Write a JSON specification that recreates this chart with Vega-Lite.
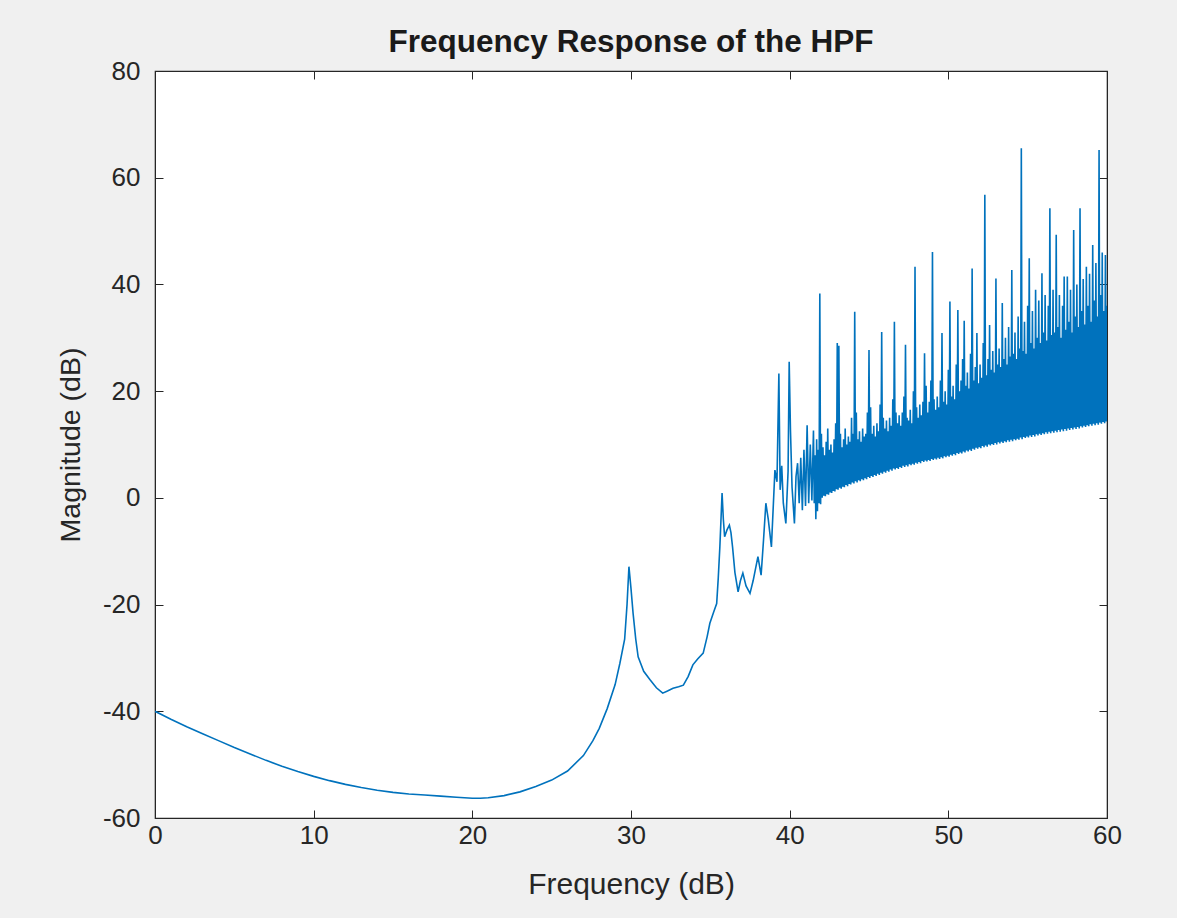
{
  "$schema": "https://vega.github.io/schema/vega-lite/v6.json",
  "width": 952,
  "height": 747,
  "autosize": {"type": "none"},
  "padding": {"left": 155, "top": 71, "right": 70, "bottom": 100},
  "background": "#f0f0f0",
  "config": {
    "view": {"fill": "#ffffff", "stroke": "#262626", "strokeWidth": 1.2},
    "font": "Liberation Sans"
  },
  "title": {
    "text": "Frequency Response of the HPF",
    "fontSize": 31.5,
    "fontWeight": "bold",
    "color": "#1a1a1a",
    "font": "Liberation Sans",
    "offset": 0,
    "anchor": "middle"
  },
  "data": {
    "values": [
      {"f":0,"m":-40.0},{"f":1,"m":-41.5},{"f":2,"m":-42.9},{"f":3,"m":-44.2},{"f":4,"m":-45.5},{"f":5,"m":-46.8},
      {"f":6,"m":-48.0},{"f":7,"m":-49.2},{"f":8,"m":-50.3},{"f":9,"m":-51.3},{"f":10,"m":-52.2},{"f":11,"m":-53.0},
      {"f":12,"m":-53.7},{"f":13,"m":-54.3},{"f":14,"m":-54.8},{"f":15,"m":-55.2},{"f":16,"m":-55.5},{"f":17,"m":-55.7},
      {"f":18,"m":-55.9},{"f":19,"m":-56.1},{"f":20,"m":-56.3},{"f":20.5,"m":-56.3},{"f":21,"m":-56.2},{"f":22,"m":-55.8},
      {"f":23,"m":-55.1},{"f":24,"m":-54.1},{"f":25,"m":-52.9},{"f":26,"m":-51.2},{"f":27,"m":-48.3},{"f":27.6,"m":-45.5},
      {"f":28,"m":-43.2},{"f":28.5,"m":-39.5},{"f":29,"m":-35.0},{"f":29.3,"m":-31.0},{"f":29.6,"m":-26.5},{"f":29.75,"m":-20.0},
      {"f":29.87,"m":-12.9},{"f":30.0,"m":-17.0},{"f":30.13,"m":-21.6},{"f":30.3,"m":-26.5},{"f":30.45,"m":-29.8},{"f":30.8,"m":-32.5},
      {"f":31.2,"m":-34.1},{"f":31.6,"m":-35.6},{"f":32.0,"m":-36.6},{"f":32.3,"m":-36.2},{"f":32.65,"m":-35.7},{"f":33.0,"m":-35.4},
      {"f":33.3,"m":-35.1},{"f":33.6,"m":-33.5},{"f":33.9,"m":-31.3},{"f":34.2,"m":-30.2},{"f":34.55,"m":-29.1},{"f":34.8,"m":-26.0},
      {"f":34.97,"m":-23.5},{"f":35.2,"m":-21.5},{"f":35.4,"m":-19.8},{"f":35.5,"m":-15.0},{"f":35.6,"m":-9.2},{"f":35.74,"m":0.9},
      {"f":35.82,"m":-4.0},{"f":35.9,"m":-7.3},{"f":36.05,"m":-6.0},{"f":36.2,"m":-5.1},{"f":36.3,"m":-6.5},{"f":36.4,"m":-9.2},
      {"f":36.55,"m":-14.0},{"f":36.75,"m":-17.6},{"f":36.9,"m":-15.5},{"f":37.05,"m":-14.1},{"f":37.25,"m":-16.5},{"f":37.5,"m":-17.9},
      {"f":37.7,"m":-15.5},{"f":38.0,"m":-11.0},{"f":38.2,"m":-14.5},{"f":38.35,"m":-8.0},{"f":38.5,"m":-1.0},{"f":38.65,"m":-4.0},
      {"f":38.85,"m":-9.2},{"f":39.07,"m":5.2},{"f":39.2,"m":3.0},{"f":39.32,"m":23.3},{"f":39.4,"m":1.5},{"f":39.5,"m":6.0},
      {"f":39.6,"m":-1.0},{"f":39.76,"m":-4.8},{"f":39.9,"m":5.0},{"f":39.97,"m":25.5},{"f":40.05,"m":12.7},{"f":40.15,"m":2.0},
      {"f":40.3,"m":-4.8},{"f":40.4,"m":4.0},{"f":40.5,"m":6.5},{"f":40.6,"m":-1.0},{"f":40.7,"m":7.5},{"f":40.8,"m":-2.3},
      {"f":40.9,"m":9.0},{"f":41.0,"m":-1.5},{"f":41.1,"m":13.6},{"f":41.2,"m":-1.0},{"f":41.3,"m":10.0},{"f":41.4,"m":-0.5},
      {"f":41.5,"m":12.6},
      {"f":41.55,"m":-1.0},{"f":41.6,"m":8.0},{"f":41.65,"m":-4.0},{"f":41.7,"m":11.0},{"f":41.75,"m":-2.5},{"f":41.8,"m":9.0},
      {"f":41.85,"m":-1.0},{"f":41.9,"m":38.3},{"f":41.95,"m":-1.2},{"f":42.0,"m":12.0},{"f":42.05,"m":0.0},{"f":42.1,"m":9.5},
      {"f":42.15,"m":0.4},{"f":42.2,"m":8.0},{"f":42.25,"m":0.3},{"f":42.3,"m":10.5},{"f":42.35,"m":0.7},{"f":42.4,"m":13.0},
      {"f":42.45,"m":0.6},{"f":42.5,"m":9.0},{"f":42.55,"m":1.0},{"f":42.6,"m":10.0},{"f":42.65,"m":0.9},{"f":42.7,"m":8.5},
      {"f":42.75,"m":1.3},{"f":42.8,"m":11.0},{"f":42.85,"m":1.2},{"f":42.9,"m":14.0},{"f":42.95,"m":1.6},{"f":43.0,"m":29.0},
      {"f":43.05,"m":1.5},{"f":43.1,"m":28.5},{"f":43.15,"m":1.9},{"f":43.2,"m":12.0},{"f":43.25,"m":1.7},{"f":43.3,"m":9.5},
      {"f":43.35,"m":2.1},{"f":43.4,"m":11.0},{"f":43.45,"m":2.0},{"f":43.5,"m":13.0},{"f":43.55,"m":2.4},{"f":43.6,"m":10.0},
      {"f":43.65,"m":2.2},{"f":43.7,"m":11.5},{"f":43.75,"m":2.6},{"f":43.8,"m":10.5},{"f":43.85,"m":2.5},{"f":43.9,"m":15.0},
      {"f":43.95,"m":2.9},{"f":44.0,"m":12.0},{"f":44.05,"m":2.7},{"f":44.1,"m":34.9},{"f":44.15,"m":3.1},{"f":44.2,"m":16.0},
      {"f":44.25,"m":2.9},{"f":44.3,"m":11.0},{"f":44.35,"m":3.3},{"f":44.4,"m":12.5},{"f":44.45,"m":3.1},{"f":44.5,"m":10.5},
      {"f":44.55,"m":3.5},{"f":44.6,"m":13.0},{"f":44.65,"m":3.3},{"f":44.7,"m":11.5},{"f":44.75,"m":3.7},{"f":44.8,"m":12.0},
      {"f":44.85,"m":3.5},{"f":44.9,"m":16.0},{"f":44.95,"m":3.9},{"f":45.0,"m":27.7},{"f":45.05,"m":3.7},{"f":45.1,"m":17.0},
      {"f":45.15,"m":4.1},{"f":45.2,"m":12.0},{"f":45.25,"m":3.9},{"f":45.3,"m":13.5},{"f":45.35,"m":4.3},{"f":45.4,"m":11.5},
      {"f":45.45,"m":4.1},{"f":45.5,"m":14.0},{"f":45.55,"m":4.5},{"f":45.6,"m":12.5},{"f":45.65,"m":4.3},{"f":45.7,"m":17.5},
      {"f":45.75,"m":4.7},{"f":45.8,"m":31.1},{"f":45.85,"m":4.5},{"f":45.9,"m":15.0},{"f":45.95,"m":4.9},{"f":46.0,"m":13.0},
      {"f":46.05,"m":4.7},{"f":46.1,"m":14.5},{"f":46.15,"m":5.1},{"f":46.2,"m":12.5},{"f":46.25,"m":4.9},{"f":46.3,"m":15.0},
      {"f":46.35,"m":5.3},{"f":46.4,"m":13.5},{"f":46.45,"m":5.1},{"f":46.5,"m":18.5},{"f":46.55,"m":5.5},{"f":46.6,"m":33.0},
      {"f":46.65,"m":5.3},{"f":46.7,"m":16.0},{"f":46.75,"m":5.6},{"f":46.8,"m":14.0},{"f":46.85,"m":5.4},{"f":46.9,"m":15.5},
      {"f":46.95,"m":5.8},{"f":47.0,"m":13.5},{"f":47.05,"m":5.6},{"f":47.1,"m":16.0},{"f":47.15,"m":6.0},{"f":47.2,"m":19.0},
      {"f":47.25,"m":5.8},{"f":47.3,"m":28.7},{"f":47.35,"m":6.1},{"f":47.4,"m":15.0},{"f":47.45,"m":5.9},{"f":47.5,"m":14.5},
      {"f":47.55,"m":6.3},{"f":47.6,"m":16.5},{"f":47.65,"m":6.1},{"f":47.7,"m":14.0},{"f":47.75,"m":6.4},{"f":47.8,"m":20.0},
      {"f":47.85,"m":6.2},{"f":47.9,"m":43.3},{"f":47.95,"m":6.6},{"f":48.0,"m":17.0},{"f":48.05,"m":6.4},{"f":48.1,"m":15.0},
      {"f":48.15,"m":6.7},{"f":48.2,"m":17.5},{"f":48.25,"m":6.5},{"f":48.3,"m":15.5},{"f":48.35,"m":6.9},{"f":48.4,"m":18.0},
      {"f":48.45,"m":6.7},{"f":48.5,"m":27.1},{"f":48.55,"m":7.0},{"f":48.6,"m":21.0},{"f":48.65,"m":6.8},{"f":48.7,"m":16.0},
      {"f":48.75,"m":7.1},{"f":48.8,"m":18.0},{"f":48.85,"m":6.9},{"f":48.9,"m":22.0},{"f":48.95,"m":7.3},{"f":49.0,"m":46.1},
      {"f":49.05,"m":7.1},{"f":49.1,"m":18.5},{"f":49.15,"m":7.4},{"f":49.2,"m":16.5},{"f":49.25,"m":7.2},{"f":49.3,"m":19.0},
      {"f":49.35,"m":7.5},{"f":49.4,"m":17.0},{"f":49.45,"m":7.3},{"f":49.5,"m":22.0},{"f":49.55,"m":7.6},{"f":49.6,"m":30.9},
      {"f":49.65,"m":7.4},{"f":49.7,"m":18.0},{"f":49.75,"m":7.8},{"f":49.8,"m":20.0},{"f":49.85,"m":7.6},{"f":49.9,"m":17.5},
      {"f":49.95,"m":7.9},{"f":50.0,"m":24.0},{"f":50.05,"m":7.7},{"f":50.1,"m":36.8},{"f":50.15,"m":8.1},{"f":50.2,"m":19.0},
      {"f":50.25,"m":7.9},{"f":50.3,"m":21.0},{"f":50.35,"m":8.2},{"f":50.4,"m":18.5},{"f":50.45,"m":8.0},{"f":50.5,"m":25.0},
      {"f":50.55,"m":8.4},{"f":50.6,"m":35.2},{"f":50.65,"m":8.2},{"f":50.7,"m":20.0},{"f":50.75,"m":8.5},{"f":50.8,"m":22.0},
      {"f":50.85,"m":8.3},{"f":50.9,"m":26.0},{"f":50.95,"m":8.7},{"f":51.0,"m":33.2},{"f":51.05,"m":8.5},{"f":51.1,"m":21.0},
      {"f":51.15,"m":8.9},{"f":51.2,"m":23.5},{"f":51.25,"m":8.7},{"f":51.3,"m":20.5},{"f":51.35,"m":9.0},{"f":51.4,"m":27.0},
      {"f":51.45,"m":8.8},{"f":51.5,"m":43.0},{"f":51.55,"m":9.2},{"f":51.6,"m":22.0},{"f":51.65,"m":9.0},{"f":51.7,"m":24.5},
      {"f":51.75,"m":9.4},{"f":51.8,"m":30.9},{"f":51.85,"m":9.2},{"f":51.9,"m":21.5},{"f":51.95,"m":9.5},{"f":52.0,"m":25.0},
      {"f":52.05,"m":9.3},{"f":52.1,"m":22.5},{"f":52.15,"m":9.7},{"f":52.2,"m":29.0},{"f":52.25,"m":9.5},{"f":52.3,"m":56.8},
      {"f":52.35,"m":9.8},{"f":52.4,"m":23.0},{"f":52.45,"m":9.6},{"f":52.5,"m":26.0},{"f":52.55,"m":10.0},{"f":52.6,"m":32.4},
      {"f":52.65,"m":9.8},{"f":52.7,"m":24.0},{"f":52.75,"m":10.1},{"f":52.8,"m":27.5},{"f":52.85,"m":9.9},{"f":52.9,"m":23.5},
      {"f":52.95,"m":10.3},{"f":53.0,"m":41.1},{"f":53.05,"m":10.0},{"f":53.1,"m":25.0},{"f":53.15,"m":10.4},{"f":53.2,"m":28.0},
      {"f":53.25,"m":10.2},{"f":53.3,"m":24.5},{"f":53.35,"m":10.5},{"f":53.4,"m":36.5},{"f":53.45,"m":10.3},{"f":53.5,"m":26.0},
      {"f":53.55,"m":10.6},{"f":53.6,"m":30.0},{"f":53.65,"m":10.4},{"f":53.7,"m":25.0},{"f":53.75,"m":10.8},{"f":53.8,"m":32.0},
      {"f":53.85,"m":10.5},{"f":53.9,"m":26.5},{"f":53.95,"m":10.9},{"f":54.0,"m":42.7},{"f":54.05,"m":10.6},{"f":54.1,"m":27.0},
      {"f":54.15,"m":11.0},{"f":54.2,"m":31.0},{"f":54.25,"m":10.8},{"f":54.3,"m":26.0},{"f":54.35,"m":11.1},{"f":54.4,"m":34.0},
      {"f":54.45,"m":10.9},{"f":54.5,"m":28.0},{"f":54.55,"m":11.3},{"f":54.6,"m":65.5},{"f":54.65,"m":11.0},{"f":54.7,"m":27.5},
      {"f":54.75,"m":11.4},{"f":54.8,"m":33.0},{"f":54.85,"m":11.2},{"f":54.9,"m":27.0},{"f":54.95,"m":11.5},{"f":55.0,"m":36.0},
      {"f":55.05,"m":11.3},{"f":55.1,"m":44.9},{"f":55.15,"m":11.7},{"f":55.2,"m":29.0},{"f":55.25,"m":11.4},{"f":55.3,"m":35.0},
      {"f":55.35,"m":11.8},{"f":55.4,"m":28.0},{"f":55.45,"m":11.5},{"f":55.5,"m":39.0},{"f":55.55,"m":11.9},{"f":55.6,"m":30.0},
      {"f":55.65,"m":11.7},{"f":55.7,"m":37.0},{"f":55.75,"m":12.0},{"f":55.8,"m":29.0},{"f":55.85,"m":11.8},{"f":55.9,"m":42.1},
      {"f":55.95,"m":12.1},{"f":56.0,"m":31.0},{"f":56.05,"m":11.9},{"f":56.1,"m":38.0},{"f":56.15,"m":12.3},{"f":56.2,"m":29.5},
      {"f":56.25,"m":12.0},{"f":56.3,"m":36.0},{"f":56.35,"m":12.4},{"f":56.4,"m":54.3},{"f":56.45,"m":12.1},{"f":56.5,"m":30.5},
      {"f":56.55,"m":12.5},{"f":56.6,"m":39.0},{"f":56.65,"m":12.2},{"f":56.7,"m":31.0},{"f":56.75,"m":12.6},{"f":56.8,"m":49.3},
      {"f":56.85,"m":12.3},{"f":56.9,"m":32.0},{"f":56.95,"m":12.7},{"f":57.0,"m":38.0},{"f":57.05,"m":12.4},{"f":57.1,"m":30.0},
      {"f":57.15,"m":12.8},{"f":57.2,"m":36.0},{"f":57.25,"m":12.5},{"f":57.3,"m":41.5},{"f":57.35,"m":12.9},{"f":57.4,"m":31.5},
      {"f":57.45,"m":12.6},{"f":57.5,"m":41.5},{"f":57.55,"m":13.0},{"f":57.6,"m":33.0},{"f":57.65,"m":12.7},{"f":57.7,"m":39.0},
      {"f":57.75,"m":13.1},{"f":57.8,"m":31.0},{"f":57.85,"m":12.8},{"f":57.9,"m":50.2},{"f":57.95,"m":13.2},{"f":58.0,"m":34.0},
      {"f":58.05,"m":12.9},{"f":58.1,"m":40.0},{"f":58.15,"m":13.3},{"f":58.2,"m":32.0},{"f":58.25,"m":13.0},{"f":58.3,"m":54.3},
      {"f":58.35,"m":13.4},{"f":58.4,"m":35.0},{"f":58.45,"m":13.2},{"f":58.5,"m":41.0},{"f":58.55,"m":13.5},{"f":58.6,"m":32.5},
      {"f":58.65,"m":13.3},{"f":58.7,"m":43.3},{"f":58.75,"m":13.6},{"f":58.8,"m":36.0},{"f":58.85,"m":13.4},{"f":58.9,"m":42.0},
      {"f":58.95,"m":13.8},{"f":59.0,"m":33.0},{"f":59.05,"m":13.5},{"f":59.1,"m":47.4},{"f":59.15,"m":13.9},{"f":59.2,"m":37.0},
      {"f":59.25,"m":13.6},{"f":59.3,"m":44.0},{"f":59.35,"m":14.0},{"f":59.4,"m":34.0},{"f":59.45,"m":13.7},{"f":59.5,"m":65.2},
      {"f":59.55,"m":14.1},{"f":59.6,"m":38.0},{"f":59.65,"m":13.9},{"f":59.7,"m":46.0},{"f":59.75,"m":14.2},{"f":59.8,"m":35.0},
      {"f":59.85,"m":14.0},{"f":59.9,"m":45.5},{"f":59.95,"m":14.3},{"f":60.0,"m":36.0}
    ]
  },
  "layer": [
    {
      "mark": {"type": "line", "color": "#0072BD", "strokeWidth": 1.6, "clip": true},
      "encoding": {
        "x": {
          "field": "f", "type": "quantitative",
          "scale": {"domain": [0, 60], "nice": false, "zero": false},
          "axis": {
            "title": "Frequency (dB)", "values": [0, 10, 20, 30, 40, 50, 60], "grid": false,
            "labelExpr": "datum.value + ''", "labelFlush": false,
            "tickSize": -8, "tickColor": "#262626", "domainColor": "#262626",
            "labelFontSize": 26, "labelColor": "#262626", "labelFont": "Liberation Sans", "labelPadding": 12,
            "titleFontSize": 30, "titleFontWeight": "normal", "titleColor": "#262626", "titleFont": "Liberation Sans", "titlePadding": 21
          }
        },
        "y": {
          "field": "m", "type": "quantitative",
          "scale": {"domain": [-60, 80], "nice": false, "zero": false},
          "axis": {
            "title": "Magnitude (dB)", "values": [-60, -40, -20, 0, 20, 40, 60, 80], "grid": false,
            "labelExpr": "datum.value + ''", "labelFlush": false,
            "tickSize": -8, "tickColor": "#262626", "domainColor": "#262626",
            "labelFontSize": 26, "labelColor": "#262626", "labelFont": "Liberation Sans", "labelPadding": 23,
            "titleFontSize": 28.5, "titleFontWeight": "normal", "titleColor": "#262626", "titleFont": "Liberation Sans", "titlePadding": 17
          }
        }
      }
    },
    {
      "mark": {"type": "point", "opacity": 0},
      "encoding": {
        "x": {
          "field": "f", "type": "quantitative",
          "scale": {"domain": [0, 60], "nice": false, "zero": false},
          "axis": {"orient": "top", "labels": false, "title": null, "values": [0, 10, 20, 30, 40, 50, 60], "grid": false, "tickSize": -8, "tickColor": "#262626", "domainColor": "#262626"}
        },
        "y": {
          "field": "m", "type": "quantitative",
          "scale": {"domain": [-60, 80], "nice": false, "zero": false},
          "axis": {"orient": "right", "labels": false, "title": null, "values": [-60, -40, -20, 0, 20, 40, 60, 80], "grid": false, "tickSize": -8, "tickColor": "#262626", "domainColor": "#262626"}
        }
      }
    }
  ],
  "resolve": {"axis": {"x": "independent", "y": "independent"}}
}
